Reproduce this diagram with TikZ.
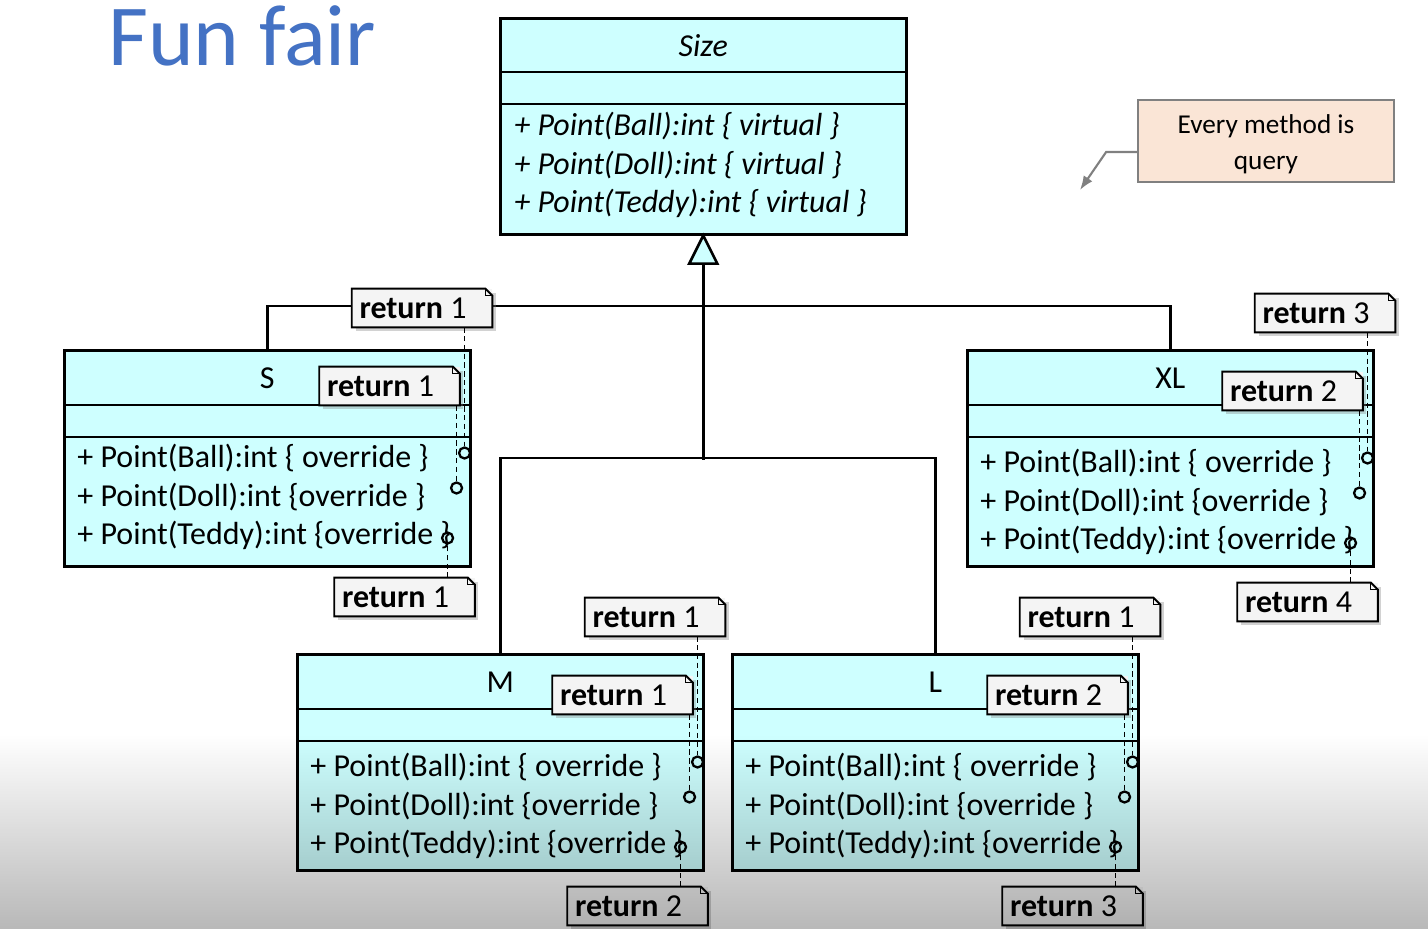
\documentclass[tikz,border=0pt]{standalone}
\usepackage{fontspec}
\setmainfont{Carlito}
\usetikzlibrary{positioning, calc, shadows, fadings, arrows.meta}
\definecolor{classcyan}{RGB}{206,255,255}
\definecolor{notegray}{RGB}{244,244,244}
\definecolor{titleblue}{RGB}{68,114,196}
\definecolor{memopeach}{RGB}{250,229,214}
\newcommand\classfont{\fontsize{18.2}{21}\selectfont}
\newcommand\ret[1]{\textbf{return} #1\kern0.36cm}

\tikzset{
  classbox/.style={draw, line width=1.5pt, fill=classcyan, minimum width=8.12cm,
    minimum height=4.32cm, anchor=north west, inner sep=0pt},
  umlline/.style={line width=1.5pt},
  method/.style={anchor=west, font=\classfont, inner sep=0pt},
  retnote/.style={fill=notegray, minimum width=2.8cm, minimum height=0.76cm, inner sep=0pt,
    font=\classfont, drop shadow={opacity=0.35, shadow xshift=2pt, shadow yshift=-2pt}},
  noteline/.style={densely dashed, line width=0.5pt},
  endring/.style={circle, draw, line width=1.3pt, minimum size=0.22cm, inner sep=0pt},
  memo/.style={draw=gray, line width=1pt, fill=memopeach, minimum width=5.12cm,
    minimum height=1.64cm, align=center, font=\fontsize{15.5}{20}\selectfont}
}

\begin{document}
\begin{tikzpicture}[x=0.02cm, y=-0.02cm]
  \useasboundingbox (0,0) rectangle (1428,929);
  \fill[white] (0,0) rectangle (1428,929);

  \node[anchor=base west, text=titleblue, font=\fontsize{49.5}{50}\selectfont, inner sep=0pt]
    (title) at (108,66) {Fun fair};

  % base class
  \node[classbox] (Size) at (499,17) {};
  \node[font=\classfont\itshape] (Size-name) at ($(Size.north)+(0,29)$) {Size};
  \draw[umlline] ($(Size.north west)+(0,55)$) -- ($(Size.north east)+(0,55)$);
  \draw[umlline] ($(Size.north west)+(0,87)$) -- ($(Size.north east)+(0,87)$);
  \node[method, font=\classfont\itshape] (Size-m1) at ($(Size.north west)+(15,109)$) {+ Point(Ball):int \{ virtual \}};
  \node[method, font=\classfont\itshape] (Size-m2) at ($(Size.north west)+(15,148)$) {+ Point(Doll):int \{ virtual \}};
  \node[method, font=\classfont\itshape] (Size-m3) at ($(Size.north west)+(15,186)$) {+ Point(Teddy):int \{ virtual \}};

  % derived classes
  \foreach \c/\x/\y/\d in {S/63/349/0, XL/966/349/5, M/296/653/5, L/731/653/5} {
    \node[classbox] (\c) at (\x,\y) {};
    \node[font=\classfont] (\c-name) at ($(\c.north)+(0,29)$) {\c};
    \draw[umlline] ($(\c.north west)+(0,56)$) -- ($(\c.north east)+(0,56)$);
    \draw[umlline] ($(\c.north west)+(0,88)$) -- ($(\c.north east)+(0,88)$);
    \node[method] (\c-m1) at ($(\c.north west)+(14,109+\d)$) {+ Point(Ball):int \{ override \}};
    \node[method] (\c-m2) at ($(\c.north west)+(14,148+\d)$) {+ Point(Doll):int \{override \}};
    \node[method] (\c-m3) at ($(\c.north west)+(14,186+\d)$) {+ Point(Teddy):int \{override \}};
  }

  % generalization
  \draw[umlline, fill=classcyan] (Size.south) -- ++(-14,28) -- ++(28,0) -- cycle;
  \coordinate (gen) at ($(Size.south)+(0,28)$);
  \draw[umlline] (gen) -- ++(0,196);
  \draw[umlline] (S.north) -- ++(0,-43) -| (XL.north);
  \draw[umlline] (M.north) -- ++(0,-195) -| (L.north);

  % return notes
  \foreach \c/\d/\ra/\rb/\rc in {S/0/1/1/1, XL/5/3/2/4, M/5/1/1/2, L/5/1/2/3} {
    \node[endring] (\c-r1) at ($(\c.north east)+(-7,104+\d)$) {};
    \node[endring] (\c-r2) at ($(\c.north east)+(-15,139+\d)$) {};
    \node[endring] (\c-r3) at ($(\c.north east)+(-24,189+\d)$) {};
    \node[retnote] (\c-n1) at ($(\c.north east)+(-49.5,-41+\d)$) {\ret{\ra}};
    \node[retnote] (\c-n2) at ($(\c.north east)+(-82,37+\d)$) {\ret{\rb}};
    \node[retnote] (\c-n3) at ($(\c.north east)+(-67,248+\d)$) {\ret{\rc}};
    \draw[noteline] (\c-n1.south -| \c-r1) -- (\c-r1.north);
    \draw[noteline] (\c-n2.south -| \c-r2) -- (\c-r2.north);
    \draw[noteline] (\c-n3.north -| \c-r3) -- (\c-r3.south);
    \foreach \k in {1,2,3} {
      \draw[line width=1.1pt] (\c-n\k.south west) -- (\c-n\k.north west)
        -- ($(\c-n\k.north east)+(-7,0)$) -- ($(\c-n\k.north east)+(0,7)$)
        -- (\c-n\k.south east) -- cycle;
      \draw[line width=0.5pt] ($(\c-n\k.north east)+(-7,0)$) -- ($(\c-n\k.north east)+(-7,7)$)
        -- ($(\c-n\k.north east)+(0,7)$);
    }
  }

  % comment
  \node[memo] (memo) at (1266,141) {\rule{0pt}{14.5pt}Every method is\\query};
  \coordinate (memo-tip) at (1080,190);
  \draw[gray, line width=1.2pt, -{Latex[length=8pt]}] ($(memo.west)+(0,11)$) -- ++(-31,0) -- (memo-tip);

  % grey fade at the bottom
  \fill[black, fill opacity=0.28, path fading=north] (0,735) rectangle (1428,929);
\end{tikzpicture}
\end{document}
